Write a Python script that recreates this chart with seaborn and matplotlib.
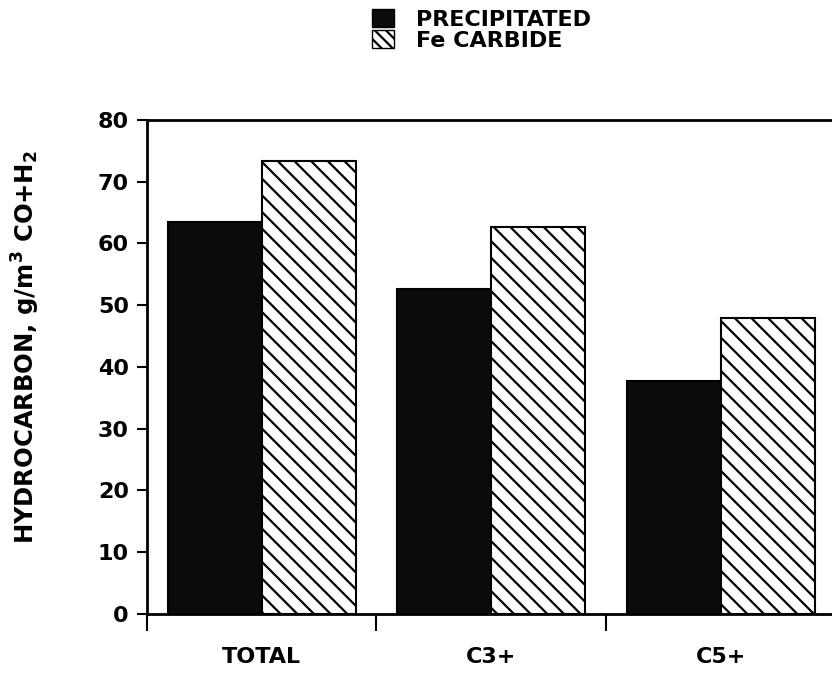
import numpy as np
import pandas as pd
import seaborn as sns
import matplotlib.pyplot as plt
from matplotlib.patches import Patch

# values
categories = ["TOTAL", "C3+", "C5+"]
catalysts = ["PRECIPITATED", "Fe CARBIDE"]
precipitated = [63.4, 52.6, 37.8]
fe_carbide = [73.4, 62.6, 48.0]

df = pd.DataFrame({
    "fraction": categories * 2,
    "catalyst": [catalysts[0]] * 3 + [catalysts[1]] * 3,
    "yield": precipitated + fe_carbide,
})

sns.set_style("white")
plt.rcParams["font.family"] = ["DejaVu Sans"]
plt.rcParams["font.weight"] = "bold"
plt.rcParams["text.color"] = "black"
plt.rcParams["hatch.linewidth"] = 1.6
plt.rcParams["hatch.color"] = "black"

fig = plt.figure(figsize=(8.32, 6.81), dpi=100)
ax = fig.add_axes([0.1767, 0.0984, 0.855, 0.7254])

sns.barplot(data=df, x="fraction", y="yield", hue="catalyst",
            order=categories, hue_order=catalysts,
            palette=["#0b0b0b", "white"], saturation=1, width=0.82,
            edgecolor="black", linewidth=1.5, legend=False, ax=ax)

for bar in ax.containers[1]:
    bar.set_hatch("\\\\")

ax.set_xlim(-0.5, 2.6)
ax.set_ylim(0, 80)
ax.set_yticks(range(0, 81, 10))
ax.set_xticks(range(len(categories)), categories)
ax.set_xticks([-0.5, 0.5, 1.5, 2.5], minor=True)

for side in ["left", "top", "bottom"]:
    ax.spines[side].set_color("black")
    ax.spines[side].set_linewidth(2)
ax.spines["right"].set_visible(False)

ax.tick_params(axis="y", left=True, length=7, width=1.5, direction="out",
               labelsize=16, pad=6, colors="black")
ax.tick_params(axis="x", which="major", bottom=False, length=0,
               labelsize=16, pad=24, colors="black")
ax.tick_params(axis="x", which="minor", bottom=True, length=12, width=1.5,
               direction="out", colors="black")

ax.set_xlabel("")
ax.set_ylabel(r"HYDROCARBON, g/m$^\mathbf{3}$ CO+H$_\mathbf{2}$",
              fontsize=17.5, fontweight="bold", color="black")
ax.yaxis.set_label_coords(-0.148, 0.54)

handles = [Patch(facecolor="#0b0b0b", edgecolor="black"),
           Patch(facecolor="white", edgecolor="black", hatch="\\\\\\")]
fig.legend(handles=handles, labels=catalysts, loc="upper left",
           bbox_to_anchor=(372 / 832, 1 - 9 / 681), frameon=False,
           fontsize=16, labelcolor="black", handlelength=1.0,
           handleheight=0.9, handletextpad=1.0, labelspacing=0.0,
           borderpad=0, borderaxespad=0)

fig.savefig("out.png", dpi=100)
